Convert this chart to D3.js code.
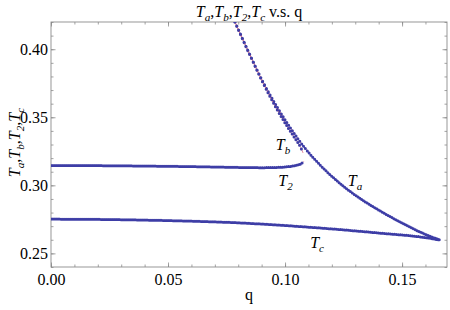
<!DOCTYPE html>
<html>
<head>
<meta charset="utf-8">
<script src="https://cdn.jsdelivr.net/npm/d3@7"></script>
<style>
  body { margin: 0; background: #fff; }
</style>
</head>
<body>
<div id="chart"></div>
<script>
// values
var qA = [0.0786, 0.0846, 0.0906, 0.0966, 0.1026, 0.1085, 0.1150, 0.1218, 0.1299, 0.1385, 0.1491, 0.1577, 0.1662]
var tA = [0.4200, 0.3972, 0.3759, 0.3576, 0.3414, 0.3274, 0.3149, 0.3039, 0.2929, 0.2834, 0.2731, 0.2657, 0.2598]

var qB = [0.0786, 0.0846, 0.0906, 0.0962, 0.1013, 0.1047, 0.1068, 0.1077]
var tB = [0.4200, 0.3972, 0.3752, 0.3568, 0.3422, 0.3333, 0.3274, 0.3238]

var q2 = [0, 0.02, 0.04, 0.06, 0.07, 0.08, 0.09, 0.095, 0.10, 0.103, 0.105, 0.107, 0.108]
var t2 = [0.3146, 0.3145, 0.3142, 0.3138, 0.3135, 0.3132, 0.3130, 0.3131, 0.3135, 0.3141, 0.3148, 0.3160, 0.3176]

var qC = [0, 0.02, 0.04, 0.06, 0.08, 0.10, 0.12, 0.14, 0.16, 0.1662]
var tC = [0.2752, 0.2750, 0.2745, 0.2737, 0.2725, 0.2705, 0.2680, 0.2650, 0.2616, 0.2598]

var xTicks = [0, 0.05, 0.10, 0.15]
var yTicks = [0.25, 0.30, 0.35, 0.40]

// curve labels: [main, subscript, q, T]
var curveLabels = [
  ['T', 'b', 0.0991, 0.3262],
  ['T', '2', 0.1002, 0.2995],
  ['T', 'a', 0.1299, 0.2995],
  ['T', 'c', 0.1137, 0.2540]
]

var margin = { top: 22, left: 51, right: 3, bottom: 43 }
var width = 450 - margin.left - margin.right
var height = 310 - margin.top - margin.bottom

var serif = 'Liberation Serif'
var dotColor = '#3d3da6'
var joinColor = '#dd7088'
var frameColor = '#8c8c8c'

var svg = d3.select('#chart')
  .append('svg')
  .attr('width', 450)
  .attr('height', 310)
  .attr('font-family', serif)

var g = svg.append('g')
  .attr('transform', 'translate(' + margin.left + ',' + margin.top + ')')

var xPositionScale = d3.scaleLinear().domain([0, 0.1692]).range([0, width])
var yPositionScale = d3.scaleLinear().domain([0.24, 0.42]).range([height, 0])

g.append('clipPath')
  .attr('id', 'plot-clip')
  .append('rect')
  .attr('width', width)
  .attr('height', height)

// ticks: major + minor, inward, on all four sides
var minorX = d3.range(0, 0.17, 0.01)
var minorY = d3.range(0.24, 0.4201, 0.01)

function styleAxis(sel) {
  sel.attr('font-family', serif)
  sel.select('.domain').remove()
  sel.selectAll('line').attr('stroke', frameColor).attr('stroke-width', 0.8)
  sel.selectAll('text')
    .attr('font-size', 16)
    .attr('fill', '#000')
}

g.append('g')
  .attr('transform', 'translate(0,' + height + ')')
  .call(d3.axisBottom(xPositionScale).tickValues(minorX).tickSize(-2.5).tickFormat(''))
  .call(styleAxis)
g.append('g')
  .call(d3.axisTop(xPositionScale).tickValues(minorX).tickSize(-2.5).tickFormat(''))
  .call(styleAxis)
g.append('g')
  .call(d3.axisLeft(yPositionScale).tickValues(minorY).tickSize(-2.5).tickFormat(''))
  .call(styleAxis)
g.append('g')
  .attr('transform', 'translate(' + width + ',0)')
  .call(d3.axisRight(yPositionScale).tickValues(minorY).tickSize(-2.5).tickFormat(''))
  .call(styleAxis)

g.append('g')
  .attr('class', 'axis x-axis')
  .attr('transform', 'translate(0,' + height + ')')
  .call(d3.axisBottom(xPositionScale).tickValues(xTicks).tickSize(-4.5).tickPadding(7).tickFormat(d3.format('.2f')))
  .call(styleAxis)
g.append('g')
  .call(d3.axisTop(xPositionScale).tickValues(xTicks).tickSize(-4.5).tickFormat(''))
  .call(styleAxis)
g.append('g')
  .attr('class', 'axis y-axis')
  .call(d3.axisLeft(yPositionScale).tickValues(yTicks).tickSize(-4.5).tickPadding(3).tickFormat(d3.format('.2f')))
  .call(styleAxis)
g.append('g')
  .attr('transform', 'translate(' + width + ',0)')
  .call(d3.axisRight(yPositionScale).tickValues(yTicks).tickSize(-4.5).tickFormat(''))
  .call(styleAxis)

g.append('rect')
  .attr('width', width)
  .attr('height', height)
  .attr('fill', 'none')
  .attr('stroke', frameColor)
  .attr('stroke-width', 0.9)

// series
var series = [
  { q: qC, t: tC },
  { q: q2, t: t2 },
  { q: qA, t: tA },
  { q: qB, t: tB }
]

var line = d3.line()
  .x(d => xPositionScale(d[0]))
  .y(d => yPositionScale(d[1]))
  .curve(d3.curveMonotoneX)

// dots spaced evenly in x, like a dense list plot
function dotPattern(node, stepX) {
  var L = node.getTotalLength()
  var pattern = []
  var last = 0
  var acc = 0
  var prevX = node.getPointAtLength(0).x
  for (var s = 0.2; s <= L; s += 0.2) {
    var p = node.getPointAtLength(s)
    acc += Math.abs(p.x - prevX)
    prevX = p.x
    if (acc >= stepX || s - last >= 7) {
      pattern.push(0, s - last)
      last = s
      acc = 0
    }
  }
  pattern.push(0, L + 20)
  return pattern.map(v => v.toFixed(2)).join(' ')
}

var plot = g.append('g').attr('clip-path', 'url(#plot-clip)')

series.forEach(function(s) {
  var pts = s.q.map((q, i) => [q, s.t[i]])
  plot.append('path')
    .datum(pts)
    .attr('d', line)
    .attr('fill', 'none')
    .attr('stroke', joinColor)
    .attr('stroke-width', 0.8)
  var dots = plot.append('path')
    .datum(pts)
    .attr('d', line)
    .attr('fill', 'none')
    .attr('stroke', dotColor)
    .attr('stroke-width', 3)
    .attr('stroke-linecap', 'round')
  dots.attr('stroke-dasharray', dotPattern(dots.node(), 1.8))
})

// curve labels
curveLabels.forEach(function(d) {
  var t = g.append('text')
    .attr('x', xPositionScale(d[2]))
    .attr('y', yPositionScale(d[3]))
    .attr('text-anchor', 'middle')
    .attr('font-size', 16)
    .attr('font-style', 'italic')
  t.append('tspan').text(d[0])
  t.append('tspan').attr('font-size', 11).attr('dy', 4).text(d[1])
})

// title and axis labels
function subLabel(sel, parts, size) {
  parts.forEach(function(p, i) {
    if (i > 0) sel.append('tspan').attr('dy', -4).attr('font-style', 'normal').text(',')
    sel.append('tspan').attr('font-style', 'italic').text('T')
    sel.append('tspan').attr('font-size', size * 0.7).attr('font-style', 'italic').attr('dy', 4).text(p)
  })
}

var title = svg.append('text')
  .attr('x', margin.left + width / 2)
  .attr('y', 17)
  .attr('text-anchor', 'middle')
  .attr('font-size', 16)
subLabel(title, ['a', 'b', '2', 'c'], 16)
title.append('tspan').attr('dy', -4).text(' v.s. q')

var yLabel = svg.append('text')
  .attr('transform', 'translate(20,' + (margin.top + height / 2 - 2) + ') rotate(-90)')
  .attr('text-anchor', 'middle')
  .attr('font-size', 16)
subLabel(yLabel, ['a', 'b', '2', 'c'], 16)

svg.append('text')
  .attr('x', margin.left + width / 2)
  .attr('y', 300)
  .attr('text-anchor', 'middle')
  .attr('font-size', 16)
  .text('q')
</script>
</body>
</html>
